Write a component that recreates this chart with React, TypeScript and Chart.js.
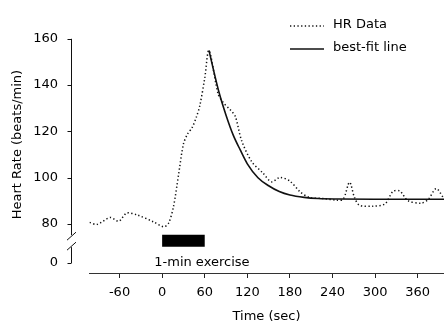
import React, { useEffect, useRef } from 'react';
import { Chart, registerables } from 'chart.js';

Chart.register(...registerables);

// ---- data ----
const hrTimes = [-102, -92, -73, -61, -50, -35, -12, 2, 9, 16, 23, 30, 36, 42, 48, 53, 60, 66, 79, 86, 96, 103, 112, 126, 142, 154, 166, 180, 194, 208, 227, 246, 255, 264, 271, 278, 297, 314, 325, 335, 346, 365, 375, 386, 396];
const hrValues = [80.7, 79.8, 82.8, 81.2, 84.7, 83.9, 80.9, 78.8, 80.3, 87.5, 101, 114.5, 119, 121.5, 126, 131, 143, 155, 136, 132.5, 129.3, 126.5, 116, 107, 102, 98.2, 100.1, 98.5, 94, 91.4, 91, 90.3, 90.7, 98, 91.4, 88.1, 87.7, 88.7, 94, 94.2, 90.1, 89, 90.7, 95.3, 91.4];
const fitTimes = [66, 72, 80, 90, 100, 110, 120, 135, 150, 165, 180, 200, 220, 250, 300, 397];
const fitValues = [155, 147, 137, 127, 118.5, 112, 106, 100, 96.5, 94, 92.5, 91.5, 91, 90.8, 90.7, 90.7];
const exerciseTimes = [0, 60];
const exerciseLevel = 72.8;
const xTicks = [-60, 0, 60, 120, 180, 240, 300, 360];
const yTicks = [80, 100, 120, 140, 160];
const yLowTicks = [0];
const seriesLabels = ['HR Data', 'best-fit line'];
const exerciseText = '1-min exercise';
const exerciseTextCenter = 56;

const FONT = 'DejaVu Sans';

const decorPlugin = {
  id: 'decor',
  afterDraw(chart: any) {
    const { ctx, chartArea, scales } = chart;
    const x = scales.x, y = scales.y, yl = scales.yLow;
    const ax = chartArea.left - 18 + 0.5;
    ctx.save();
    ctx.strokeStyle = '#111';
    ctx.lineWidth = 1;
    const top = y.getPixelForValue(yTicks[yTicks.length - 1]);
    const p80 = y.getPixelForValue(yTicks[0]);
    const p0 = yl.getPixelForValue(0);
    const mid = p80 + (p0 - p80) * 0.44;
    // y axis segments with break
    ctx.beginPath();
    ctx.moveTo(ax, top);
    ctx.lineTo(ax, mid - 6);
    ctx.moveTo(ax, mid + 6);
    ctx.lineTo(ax, p0);
    ctx.stroke();
    // break slashes
    ctx.beginPath();
    ctx.moveTo(ax - 4.5, mid - 1);
    ctx.lineTo(ax + 4.5, mid - 9);
    ctx.moveTo(ax - 4.5, mid + 9);
    ctx.lineTo(ax + 4.5, mid + 1);
    ctx.stroke();
    // y tick marks
    ctx.beginPath();
    for (const v of yTicks) {
      const py = Math.round(y.getPixelForValue(v)) + 0.5;
      ctx.moveTo(ax - 4, py);
      ctx.lineTo(ax, py);
    }
    for (const v of yLowTicks) {
      const py = Math.round(yl.getPixelForValue(v)) + 0.5;
      ctx.moveTo(ax - 4, py);
      ctx.lineTo(ax, py);
    }
    ctx.stroke();

    // exercise label
    ctx.fillStyle = '#000';
    ctx.font = `13px "${FONT}"`;
    ctx.textAlign = 'center';
    ctx.textBaseline = 'middle';
    ctx.fillText(exerciseText, x.getPixelForValue(exerciseTextCenter), p0);

    // legend
    const ds = chart.data.datasets.filter((d: any) => d.showInLegend);
    const lx = 290, ly = 25, gap = 23;
    ds.forEach((d: any, i: number) => {
      const yy = ly + i * gap;
      ctx.save();
      ctx.strokeStyle = d.borderColor;
      ctx.lineWidth = d.borderWidth;
      ctx.setLineDash(d.borderDash || []);
      ctx.beginPath();
      ctx.moveTo(lx, yy + 1);
      ctx.lineTo(lx + 34, yy + 1);
      ctx.stroke();
      ctx.restore();
      ctx.textAlign = 'left';
      ctx.fillText(d.label, 333, yy);
    });
    ctx.restore();
  },
};

export default function App() {
  const ref = useRef<HTMLCanvasElement | null>(null);
  useEffect(() => {
    document.body.style.margin = '0';
    Chart.defaults.font.family = FONT;
    Chart.defaults.font.size = 13;
    Chart.defaults.color = '#000';
    const chart = new Chart(ref.current as HTMLCanvasElement, {
      type: 'line',
      data: {
        datasets: [
          {
            label: seriesLabels[0],
            data: hrTimes.map((t, i) => ({ x: t, y: hrValues[i] })),
            borderColor: '#111',
            borderWidth: 1.5,
            borderDash: [1.3, 2.4],
            borderCapStyle: 'butt',
            pointRadius: 0,
            tension: 0.3,
            yAxisID: 'y',
            showInLegend: true,
          } as any,
          {
            label: seriesLabels[1],
            data: fitTimes.map((t, i) => ({ x: t, y: fitValues[i] })),
            borderColor: '#111',
            borderWidth: 1.6,
            pointRadius: 0,
            cubicInterpolationMode: 'monotone',
            yAxisID: 'y',
            showInLegend: true,
          } as any,
          {
            label: 'exercise',
            data: exerciseTimes.map((t) => ({ x: t, y: exerciseLevel })),
            borderColor: '#000',
            borderWidth: 12,
            borderCapStyle: 'butt',
            pointRadius: 0,
            yAxisID: 'y',
          } as any,
        ],
      },
      options: {
        animation: false,
        responsive: false,
        layout: { padding: { top: 15, left: 0, right: 0, bottom: 0 } },
        plugins: { legend: { display: false }, tooltip: { enabled: false } },
        scales: {
          x: {
            type: 'linear',
            position: 'bottom',
            min: -103,
            max: 397,
            afterBuildTicks: (s: any) => { s.ticks = xTicks.map((v) => ({ value: v })); },
            afterFit: (s: any) => { s.height = 56; },
            grid: { drawOnChartArea: false, drawTicks: true, tickLength: 5, color: '#222' },
            border: { display: true, color: '#333', width: 1 },
            ticks: { padding: 7, color: '#000', font: { size: 13 } },
            title: { display: true, text: 'Time (sec)', color: '#000', font: { size: 13 }, padding: { top: 0, bottom: 5 } },
          },
          y: {
            type: 'linear',
            position: 'left',
            stack: 'hr',
            stackWeight: 233,
            weight: 2,
            min: 68.63,
            max: 160,
            afterBuildTicks: (s: any) => { s.ticks = yTicks.map((v) => ({ value: v })); },
            afterFit: (s: any) => { s.width = 89; },
            grid: { drawOnChartArea: false, drawTicks: false },
            border: { display: false },
            ticks: { padding: 31, color: '#000', font: { size: 13 } },
            title: { display: true, text: 'Heart Rate (beats/min)', color: '#000', font: { size: 13 }, padding: { top: 10, bottom: 0 } },
          },
          yLow: {
            type: 'linear',
            position: 'left',
            stack: 'hr',
            stackWeight: 25,
            weight: 1,
            min: -11,
            max: 14,
            afterBuildTicks: (s: any) => { s.ticks = yLowTicks.map((v) => ({ value: v })); },
            afterFit: (s: any) => { s.width = 89; },
            grid: { drawOnChartArea: false, drawTicks: false },
            border: { display: false },
            ticks: { padding: 31, color: '#000', font: { size: 13 } },
          },
        },
      } as any,
      plugins: [decorPlugin],
    });
    return () => chart.destroy();
  }, []);
  return <canvas ref={ref} width={444} height={329} style={{ display: 'block' }} />;
}
